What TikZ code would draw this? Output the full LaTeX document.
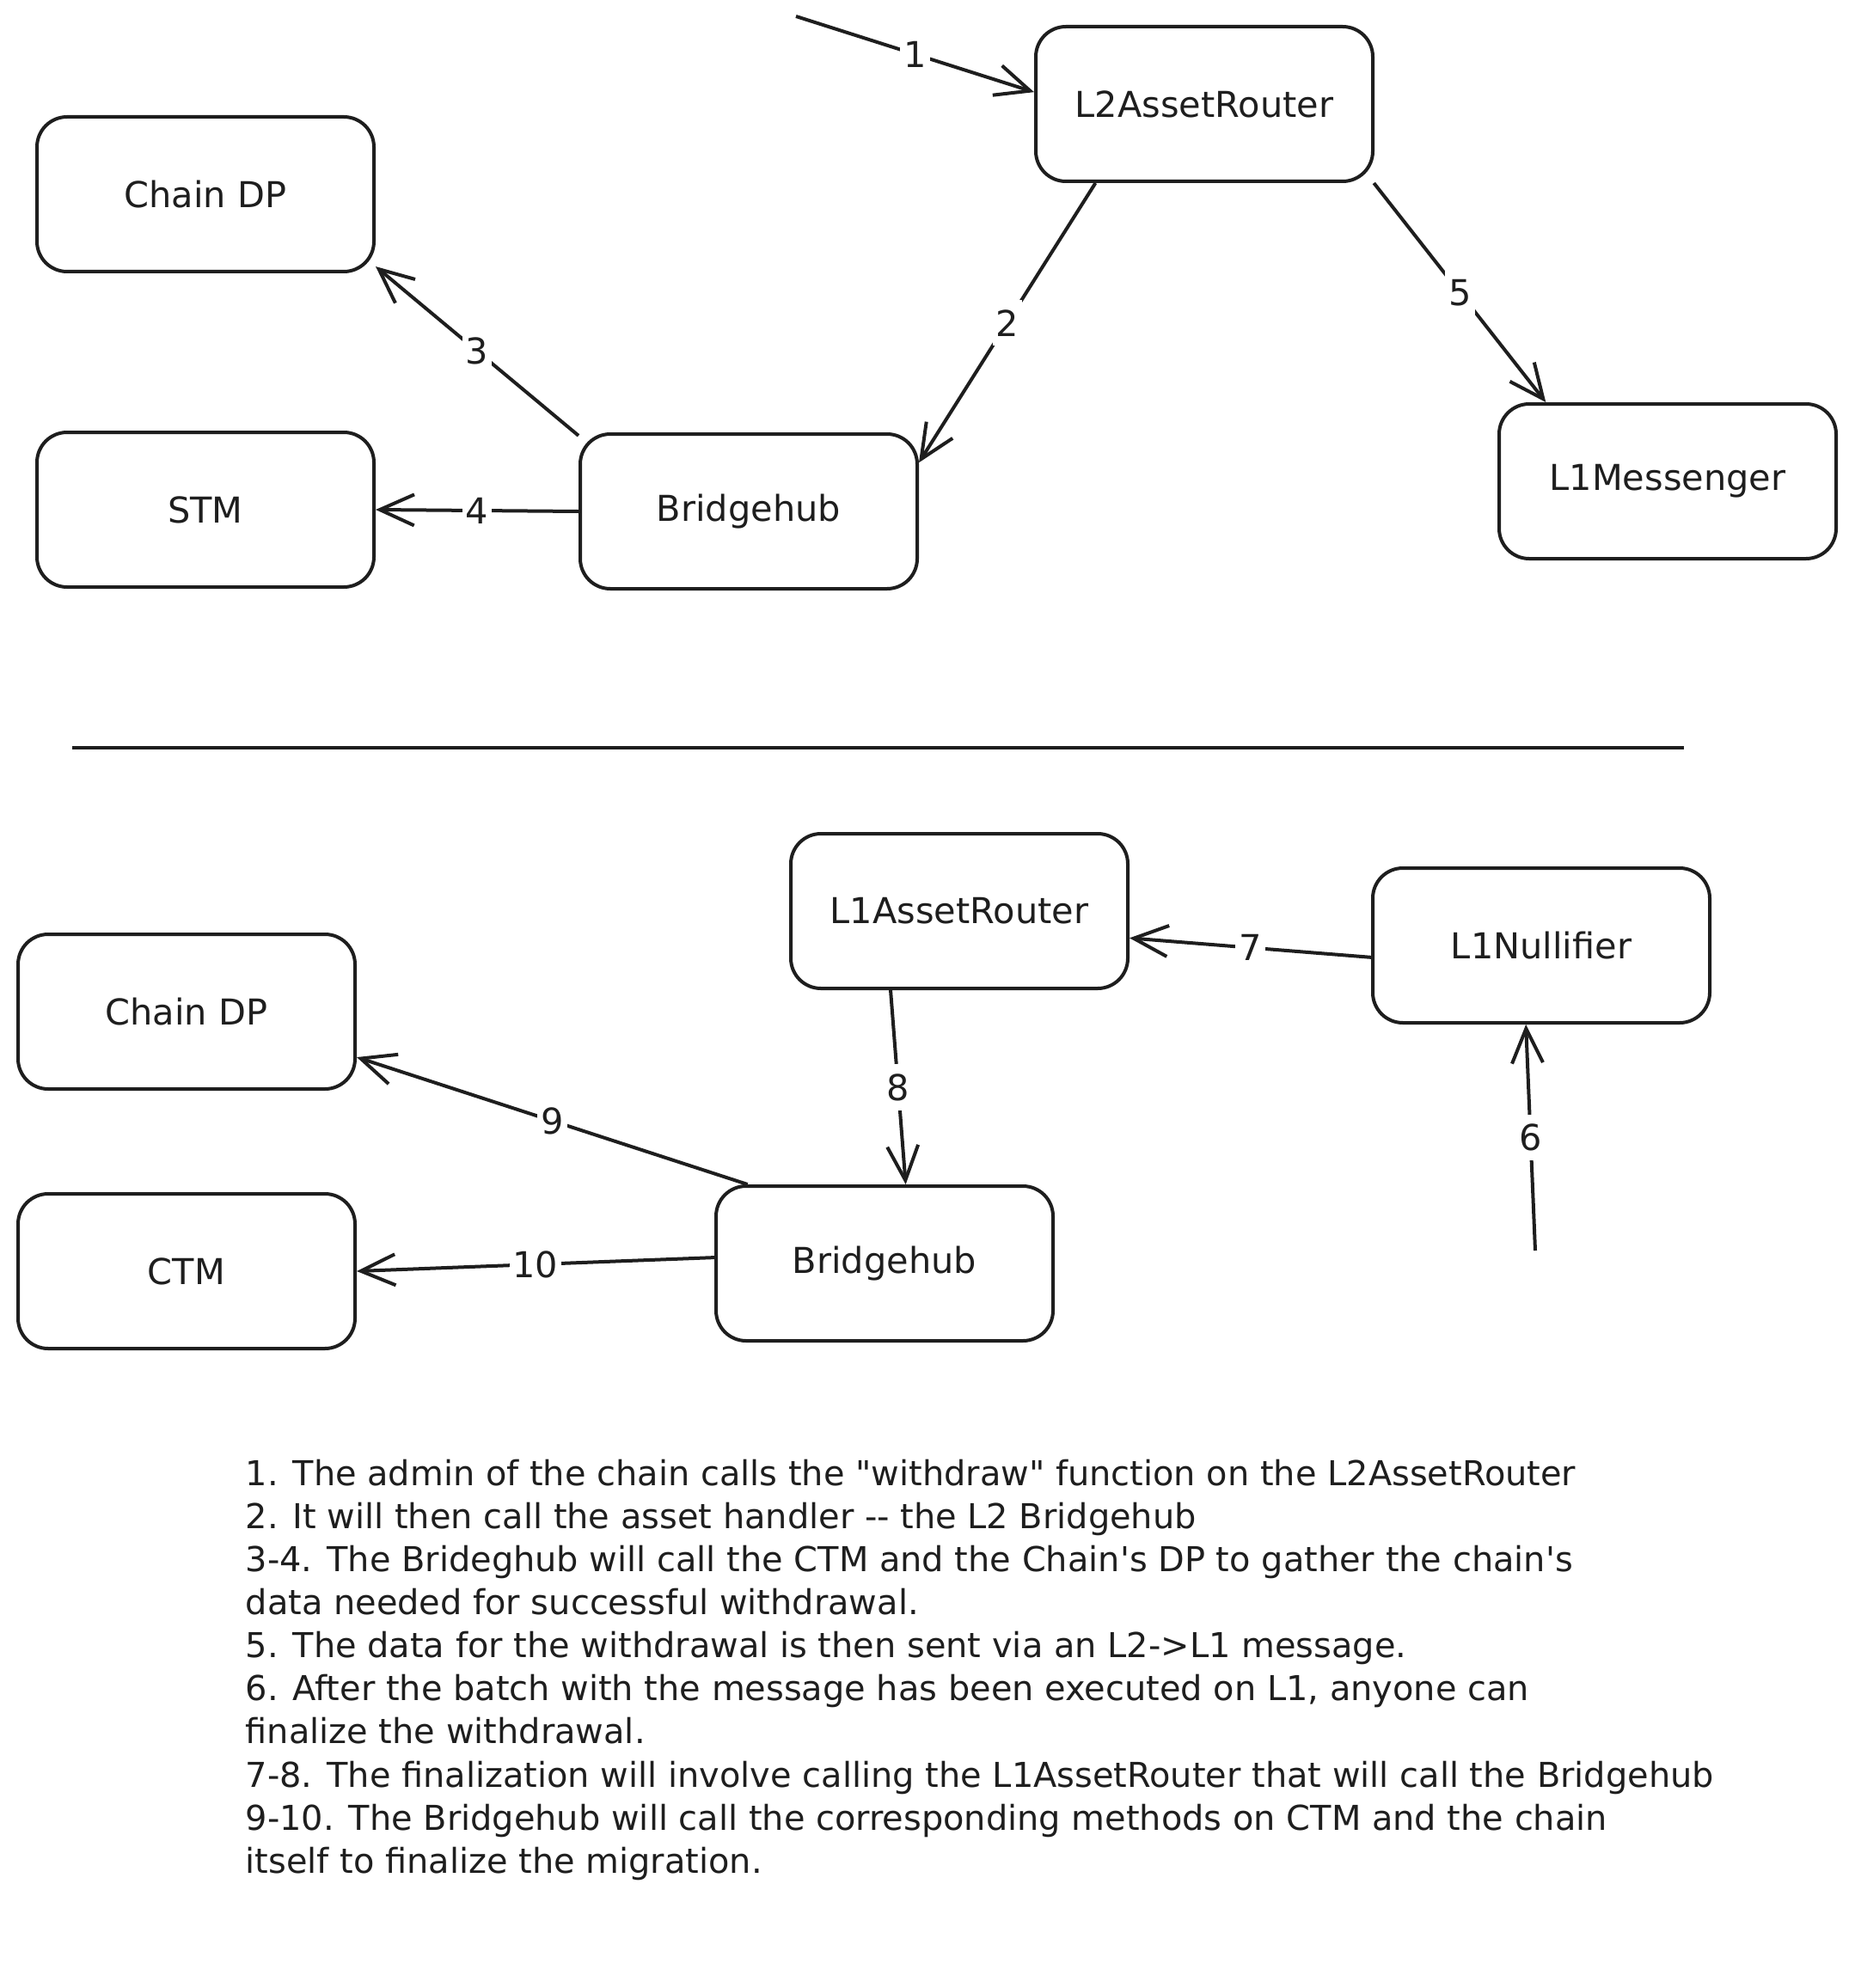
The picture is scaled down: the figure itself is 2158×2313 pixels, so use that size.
\documentclass[tikz,border=0pt]{standalone}
\usepackage{fontspec}
\setmainfont{DejaVu Sans}
\usepackage{xcolor}
\usetikzlibrary{arrows.meta,positioning}
\definecolor{ink}{HTML}{1E1E1E}

\begin{document}
\begin{tikzpicture}[
  x=0.1mm, y=-0.1mm,
  font=\fontsize{11.8}{14}\selectfont,
  box/.style={draw=ink, line width=0.4mm, rounded corners=3.5mm, minimum width=39.2mm, minimum height=18mm, align=center, text=ink},
  arr/.style={-{Straight Barb[length=4mm, width=3.6mm]}, line width=0.4mm, draw=ink},
  num/.style={midway, fill=white, inner xsep=0.4mm, inner ysep=1.1mm, text=ink}
]
\useasboundingbox (0,0) rectangle (2158,2313);
% withdrawal on L2
\node[box] (l2ar) at (1401,121) {L2AssetRouter};
\node[box] (cdpa) at (239,226) {Chain DP};
\node[box, below=18.3mm of cdpa] (stm) {STM};
\node[box] (bha) at (871,595) {Bridgehub};
\node[box] (l1msg) at (1940,560) {L1Messenger};
\coordinate (admin) at (926,19);
\draw[arr] (admin) -- node[num] {1} (l2ar.176);
\draw[arr] (l2ar.216) -- node[num] {2} (bha.16);
\draw[arr] (bha.156) -- node[num] {3} (cdpa.337);
\draw[arr] (bha.west) -- node[num] {4} (stm.east);
\draw[arr] (l2ar.335) -- node[num] {5} (l1msg.147);
% separator
\draw[line width=0.4mm, ink] (84,870) -- (1959,870);
% finalization on L1
\node[box] (l1ar) at (1116,1060) {L1AssetRouter};
\node[box] (l1null) at (1793,1100) {L1Nullifier};
\node[box] (cdpb) at (217,1177) {Chain DP};
\node[box, below=11.8mm of cdpb] (ctm) {CTM};
\node[box] (bhb) at (1029,1470) {Bridgehub};
\coordinate (anyone) at (1786,1455);
\draw[arr] (anyone) -- node[num] {6} (l1null.259);
\draw[arr] (l1null.184) -- node[num] {7} (l1ar.351);
\draw[arr] (l1ar.229) -- node[num] {8} (bhb.75);
\draw[arr] (bhb.150) -- node[num] {9} (cdpb.345);
\draw[arr] (bhb.178) -- node[num] {10} (ctm.east);
% steps (base = last line)
\node[anchor=base west, align=left, inner sep=0, text=ink, font=\fontsize{11.35}{14.23}\selectfont] (notes) at (285,2179) {%
1. The admin of the chain calls the \textquotedbl withdraw\textquotedbl{} function on the L2AssetRouter\\
2. It will then call the asset handler -{}- the L2 Bridgehub\\
3-4. The Brideghub will call the CTM and the Chain\textquotesingle s DP to gather the chain\textquotesingle s\\
data needed for successful withdrawal.\\
5. The data for the withdrawal is then sent via an L2->L1 message.\\
6. After the batch with the message has been executed on L1, anyone can\\
finalize the withdrawal.\\
7-8. The finalization will involve calling the L1AssetRouter that will call the Bridgehub\\
9-10. The Bridgehub will call the corresponding methods on CTM and the chain\\
itself to finalize the migration.};
\end{tikzpicture}
\end{document}
